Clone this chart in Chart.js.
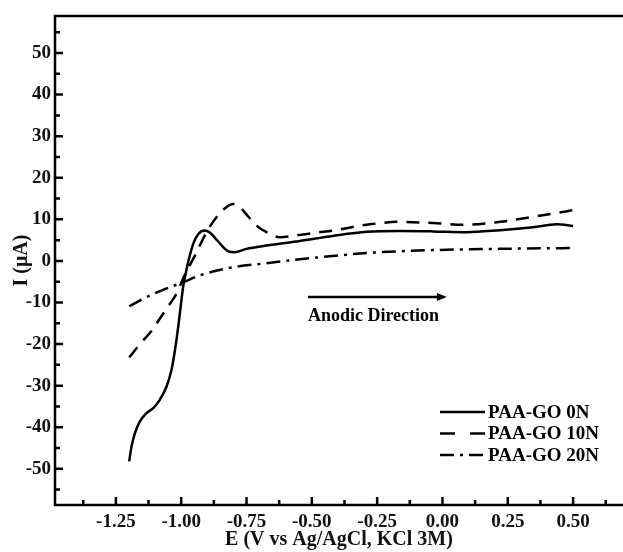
<!DOCTYPE html>
<html>
<head>
<meta charset="utf-8">
<script src="https://cdn.jsdelivr.net/npm/chart.js@4.4.0/dist/chart.umd.min.js"></script>
<style>
  html, body { margin: 0; padding: 0; background: #fff; }
</style>
</head>
<body>
<canvas id="cv" width="623" height="552"></canvas>
<script>
// series
const seriesNames = ['PAA-GO 0N', 'PAA-GO 10N', 'PAA-GO 20N'];

const e0N = [-1.199, -1.190, -1.177, -1.158, -1.133, -1.107, -1.082, -1.056, -1.037, -1.018, -1.005, -0.992, -0.981, -0.971, -0.954, -0.935, -0.91, -0.89, -0.87, -0.839, -0.815, -0.795, -0.75, -0.673, -0.546, -0.42, -0.29, -0.163, -0.037, 0.092, 0.22, 0.346, 0.437, 0.5];
const i0N = [-48.2, -44.6, -41.4, -38.6, -36.6, -35.4, -33.4, -30.2, -26.2, -19.0, -12.6, -6.0, -2.5, 0.3, 4.1, 6.4, 7.3, 6.8, 5.5, 3.3, 2.2, 2.1, 2.9, 3.7, 4.8, 6.0, 7.0, 7.2, 7.1, 6.9, 7.4, 8.1, 8.8, 8.4];

const e10N = [-1.199, -1.158, -1.113, -1.082, -1.043, -1.018, -0.993, -0.941, -0.903, -0.865, -0.83, -0.801, -0.776, -0.745, -0.712, -0.673, -0.622, -0.55, -0.482, -0.42, -0.29, -0.163, -0.037, 0.092, 0.22, 0.346, 0.473, 0.5];
const i10N = [-23.2, -20, -16.8, -13.9, -10.3, -7.9, -4.3, 2.1, 6.9, 10.5, 12.8, 13.7, 12.9, 10.8, 8.5, 6.9, 5.7, 6.2, 6.8, 7.3, 8.7, 9.4, 9.1, 8.7, 9.4, 10.6, 11.9, 12.2];

const e20N = [-1.199, -1.12, -1.043, -0.999, -0.929, -0.801, -0.673, -0.546, -0.482, -0.29, -0.037, 0.22, 0.5];
const i20N = [-10.9, -8.3, -6.3, -5.3, -3.5, -1.5, -0.55, 0.4, 0.8, 1.9, 2.6, 2.9, 3.1];

const xTicks = [-1.25, -1.0, -0.75, -0.5, -0.25, 0, 0.25, 0.5];
const xMinorTicks = [-1.375, -1.125, -0.875, -0.625, -0.375, -0.125, 0.125, 0.375, 0.625];
const yTicks = [-50, -40, -30, -20, -10, 0, 10, 20, 30, 40, 50];
const yMinorTicks = [-55, -45, -35, -25, -15, -5, 5, 15, 25, 35, 45, 55];

const arrowFrom = [-0.515, -8.7];
const arrowTo = [0.017, -8.7];
const arrowLabel = 'Anodic Direction';
const arrowLabelAt = [-0.515, -13.3];

const dashes = [[], [13, 9], [14, 6, 3, 6]];
const legendDashes = [[], [15, 15], [14, 6, 3, 6]];
const serif = '"Liberation Serif", "Times New Roman", serif';

function toPoints(xs, ys) {
    return xs.map((x, i) => ({ x: x, y: ys[i] }));
}

const datasets = [
    toPoints(e0N, i0N),
    toPoints(e10N, i10N),
    toPoints(e20N, i20N)
].map((pts, k) => ({
    label: seriesNames[k],
    data: pts,
    borderColor: '#000',
    borderWidth: 2.5,
    borderDash: dashes[k],
    pointRadius: 0,
    cubicInterpolationMode: 'monotone',
    fill: false
}));

// frame, inward ticks, arrow and legend
const decorations = {
    id: 'decorations',
    afterDatasetsDraw(chart) {
        const ctx = chart.ctx;
        const a = chart.chartArea;
        const xs = chart.scales.x;
        const ys = chart.scales.y;
        ctx.save();
        ctx.strokeStyle = '#000';
        ctx.lineCap = 'butt';

        ctx.lineWidth = 2.5;
        ctx.beginPath();
        ctx.moveTo(a.right + 2, a.top);
        ctx.lineTo(a.left, a.top);
        ctx.lineTo(a.left, a.bottom);
        ctx.lineTo(a.right + 2, a.bottom);
        ctx.stroke();

        ctx.beginPath();
        xTicks.forEach(v => {
            const px = xs.getPixelForValue(v);
            ctx.moveTo(px, a.bottom);
            ctx.lineTo(px, a.bottom - 8);
        });
        xMinorTicks.forEach(v => {
            const px = xs.getPixelForValue(v);
            ctx.moveTo(px, a.bottom);
            ctx.lineTo(px, a.bottom - 5);
        });
        yTicks.forEach(v => {
            const py = ys.getPixelForValue(v);
            ctx.moveTo(a.left, py);
            ctx.lineTo(a.left + 8, py);
        });
        yMinorTicks.forEach(v => {
            const py = ys.getPixelForValue(v);
            ctx.moveTo(a.left, py);
            ctx.lineTo(a.left + 5, py);
        });
        ctx.stroke();

        // anodic direction arrow
        const x1 = xs.getPixelForValue(arrowFrom[0]);
        const x2 = xs.getPixelForValue(arrowTo[0]);
        const ay = ys.getPixelForValue(arrowFrom[1]);
        ctx.beginPath();
        ctx.moveTo(x1, ay);
        ctx.lineTo(x2 - 8, ay);
        ctx.stroke();
        ctx.fillStyle = '#000';
        ctx.beginPath();
        ctx.moveTo(x2, ay);
        ctx.lineTo(x2 - 10, ay - 4);
        ctx.lineTo(x2 - 10, ay + 4);
        ctx.closePath();
        ctx.fill();

        ctx.font = 'bold 18px ' + serif;
        ctx.textAlign = 'left';
        ctx.textBaseline = 'middle';
        ctx.fillText(arrowLabel, xs.getPixelForValue(arrowLabelAt[0]), ys.getPixelForValue(arrowLabelAt[1]));

        // legend
        const lx = 440, ly = 412, step = 21.5;
        chart.data.datasets.forEach((ds, k) => {
            const y = ly + k * step;
            ctx.lineWidth = 2.5;
            ctx.setLineDash(legendDashes[k]);
            ctx.beginPath();
            ctx.moveTo(lx, y);
            ctx.lineTo(lx + 45, y);
            ctx.stroke();
            ctx.setLineDash([]);
            ctx.font = 'bold 19px ' + serif;
            ctx.fillText(ds.label, lx + 48, y + 1);
        });
        ctx.restore();
    }
};

new Chart(document.getElementById('cv'), {
    type: 'line',
    data: { datasets: datasets },
    options: {
        responsive: false,
        devicePixelRatio: 1,
        animation: false,
        layout: { padding: { top: 16, left: 0, right: 0, bottom: 0 } },
        plugins: {
            legend: { display: false },
            tooltip: { enabled: false }
        },
        scales: {
            x: {
                type: 'linear',
                min: -1.483,
                max: 0.691,
                grid: { display: false, drawTicks: false },
                border: { display: false },
                afterBuildTicks: s => { s.ticks = xTicks.map(v => ({ value: v })); },
                afterFit: s => { s.height = 47; },
                ticks: {
                    color: '#111',
                    font: { family: serif, size: 19, weight: 'bold' },
                    padding: 6,
                    maxRotation: 0,
                    autoSkip: false,
                    callback: v => v.toFixed(2)
                },
                title: {
                    display: true,
                    text: 'E (V vs Ag/AgCl, KCl 3M)',
                    color: '#111',
                    font: { family: serif, size: 20, weight: 'bold' },
                    padding: { top: 0, bottom: 0 }
                }
            },
            y: {
                type: 'linear',
                min: -58.7,
                max: 58.9,
                grid: { display: false, drawTicks: false },
                border: { display: false },
                afterBuildTicks: s => { s.ticks = yTicks.map(v => ({ value: v })); },
                afterFit: s => { s.width = 55; },
                ticks: {
                    color: '#111',
                    font: { family: serif, size: 19, weight: 'bold' },
                    padding: 4,
                    autoSkip: false,
                    callback: v => String(v)
                },
                title: {
                    display: true,
                    text: 'I (\u03bcA)',
                    color: '#111',
                    font: { family: serif, size: 20, weight: 'bold' },
                    padding: { top: 10, bottom: 0 }
                }
            }
        }
    },
    plugins: [decorations]
});
</script>
</body>
</html>
